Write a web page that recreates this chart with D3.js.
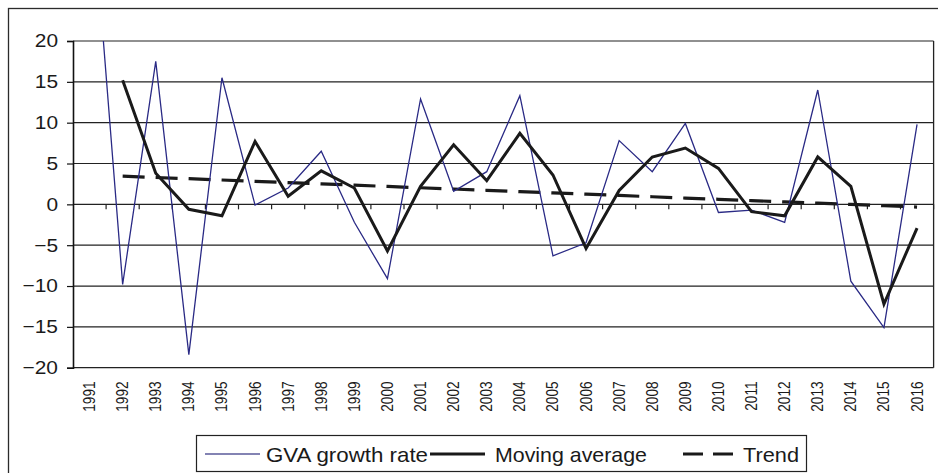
<!DOCTYPE html>
<html>
<head>
<meta charset="utf-8">
<script src="https://cdn.jsdelivr.net/npm/d3@7"></script>
<style>
  body { margin: 0; background: #fff; }
  svg { display: block; font-family: "Liberation Sans", Arial, sans-serif; }
</style>
</head>
<body>
<script>
/* ---------------------------- */
/* DATA                         */
/* ---------------------------- */

const years = ["1991","1992","1993","1994","1995","1996","1997","1998","1999","2000",
               "2001","2002","2003","2004","2005","2006","2007","2008","2009","2010",
               "2011","2012","2013","2014","2015","2016"];

// GVA growth rate (1991 goes off the top of the chart)
const gvaGrowth = [41.4, -9.8, 17.5, -18.4, 15.5, -0.1, 2.0, 6.5, -2.2, -9.1,
                   12.9, 1.6, 4.0, 13.3, -6.3, -4.7, 7.8, 4.0, 9.9, -1.0,
                   -0.7, -2.2, 14.0, -9.4, -15.1, 9.8];

// Moving average, starts in 1992
const movingYears = years.slice(1);
const movingAvg = [15.2, 3.8, -0.6, -1.4, 7.7, 1.0, 4.1, 2.0, -5.7,
                   2.2, 7.3, 2.9, 8.7, 3.6, -5.4, 1.7, 5.8, 6.9, 4.4,
                   -0.9, -1.4, 5.8, 2.2, -12.2, -2.9];

// Trend (1992 - 2016)
const trend = [3.45, 3.29, 3.14, 2.98, 2.82, 2.66, 2.51, 2.35, 2.19,
               2.03, 1.88, 1.72, 1.56, 1.40, 1.25, 1.09, 0.93, 0.77, 0.62,
               0.46, 0.30, 0.14, -0.01, -0.17, -0.33];

const yTicks = [-20, -15, -10, -5, 0, 5, 10, 15, 20];

const legendItems = [
  {label: "GVA growth rate", color: "#2a2a85", width: 1.3, dash: null},
  {label: "Moving average", color: "#1a1a1a", width: 3, dash: null},
  {label: "Trend", color: "#1a1a1a", width: 3.2, dash: "20,10"}
];

/* ---------------------------- */
/* CANVAS                       */
/* ---------------------------- */

const w = 938;
const h = 473;
const plot = {left: 73, right: 933.6, top: 41, bottom: 367.7};

let svg = d3.select("body")
  .append("svg")
    .attr("width", w)
    .attr("height", h);

// the original text is drawn a bit wider than normal Arial
function stretch(sel, k) {
  sel.each(function() {
    let len = this.getComputedTextLength();
    d3.select(this)
      .attr("textLength", len * k)
      .attr("lengthAdjust", "spacingAndGlyphs");
  });
}

// outer chart frame (runs past the right and bottom edges)
svg.append("rect")
  .attr("x", 8.5).attr("y", 8.5)
  .attr("width", 960).attr("height", 500)
  .attr("fill", "none")
  .attr("stroke", "#2b2b2b")
  .attr("stroke-width", 1.3);

// scales
let x = d3.scaleBand()
  .domain(years)
  .range([plot.left, plot.right]);

let y = d3.scaleLinear()
  .domain([-20, 20])
  .range([plot.bottom, plot.top]);

const cx = (d) => x(d) + x.bandwidth() / 2;

/* ---------------------------- */
/* GRID + AXES                  */
/* ---------------------------- */

// horizontal gridlines
svg.append("g")
  .selectAll("line")
  .data(yTicks)
  .enter()
  .append("line")
    .attr("x1", plot.left).attr("x2", plot.right)
    .attr("y1", (d) => y(d)).attr("y2", (d) => y(d))
    .attr("stroke", "#222")
    .attr("stroke-width", 1.2);

// right border of plot area
svg.append("line")
  .attr("x1", plot.right).attr("x2", plot.right)
  .attr("y1", plot.top).attr("y2", plot.bottom)
  .attr("stroke", "#222")
  .attr("stroke-width", 1.3);

// y axis
let yAxis = svg.append("g")
  .attr("transform", "translate(" + plot.left + ",0)")
  .call(d3.axisLeft(y).tickValues(yTicks).tickSize(6).tickPadding(9).tickFormat(d3.format("d")));
yAxis.select(".domain").attr("stroke", "#111").attr("stroke-width", 1.6);
yAxis.selectAll(".tick line").attr("stroke", "#111").attr("stroke-width", 1.2);
yAxis.selectAll(".tick text")
  .attr("fill", "#1a1a1a")
  .style("font-size", "18.5px")
  .style("font-family", "'Liberation Sans', Arial, sans-serif")
  .call(stretch, 1.13);

// category ticks along the zero line
svg.append("g")
  .selectAll("line")
  .data(years)
  .enter()
  .append("line")
    .attr("x1", (d) => x(d) + x.bandwidth()).attr("x2", (d) => x(d) + x.bandwidth())
    .attr("y1", y(0)).attr("y2", y(0) + 5)
    .attr("stroke", "#222")
    .attr("stroke-width", 1.2);

// year labels, rotated
svg.append("g")
  .selectAll("text")
  .data(years)
  .enter()
  .append("text")
    .attr("transform", (d) => "translate(" + (cx(d) + 5.5) + "," + 381.5 + ") rotate(-90)")
    .attr("text-anchor", "end")
    .attr("fill", "#1a1a1a")
    .style("font-size", "16px")
    .text((d) => d)
    .call(stretch, 0.85);

/* ---------------------------- */
/* LINES                        */
/* ---------------------------- */

svg.append("clipPath")
  .attr("id", "plotClip")
  .append("rect")
    .attr("x", plot.left).attr("y", plot.top)
    .attr("width", plot.right - plot.left)
    .attr("height", plot.bottom - plot.top);

let lines = svg.append("g").attr("clip-path", "url(#plotClip)");

let line = d3.line()
  .x((d) => cx(d[0]))
  .y((d) => y(d[1]));

lines.append("path")
  .datum(d3.zip(movingYears, trend))
  .attr("d", line)
  .attr("fill", "none")
  .attr("stroke", legendItems[2].color)
  .attr("stroke-width", legendItems[2].width)
  .attr("stroke-dasharray", "22,11");

lines.append("path")
  .datum(d3.zip(years, gvaGrowth))
  .attr("d", line)
  .attr("fill", "none")
  .attr("stroke", legendItems[0].color)
  .attr("stroke-width", legendItems[0].width)
  .attr("stroke-linejoin", "miter");

lines.append("path")
  .datum(d3.zip(movingYears, movingAvg))
  .attr("d", line)
  .attr("fill", "none")
  .attr("stroke", legendItems[1].color)
  .attr("stroke-width", legendItems[1].width)
  .attr("stroke-linejoin", "miter");

/* ---------------------------- */
/* LEGEND                       */
/* ---------------------------- */

let legend = svg.append("g");

legend.append("rect")
  .attr("x", 196.5).attr("y", 435.5)
  .attr("width", 610).attr("height", 36)
  .attr("fill", "#fff")
  .attr("stroke", "#222")
  .attr("stroke-width", 1.2);

// sample line start x, text start x and text length for each item
const legendPos = [[205, 266, 162], [430, 495, 152], [683, 743, 56]];

legendItems.forEach((item, i) => {
  legend.append("line")
    .attr("x1", legendPos[i][0]).attr("x2", legendPos[i][0] + (i == 2 ? 50 : 55))
    .attr("y1", 454).attr("y2", 454)
    .attr("stroke", i == 0 ? "#5a5a9a" : item.color)
    .attr("stroke-width", item.width)
    .attr("stroke-dasharray", item.dash);
  legend.append("text")
    .attr("x", legendPos[i][1])
    .attr("y", 462)
    .attr("fill", "#1a1a1a")
    .attr("textLength", legendPos[i][2])
    .attr("lengthAdjust", "spacingAndGlyphs")
    .style("font-size", "21px")
    .text(item.label);
});
</script>
</body>
</html>
